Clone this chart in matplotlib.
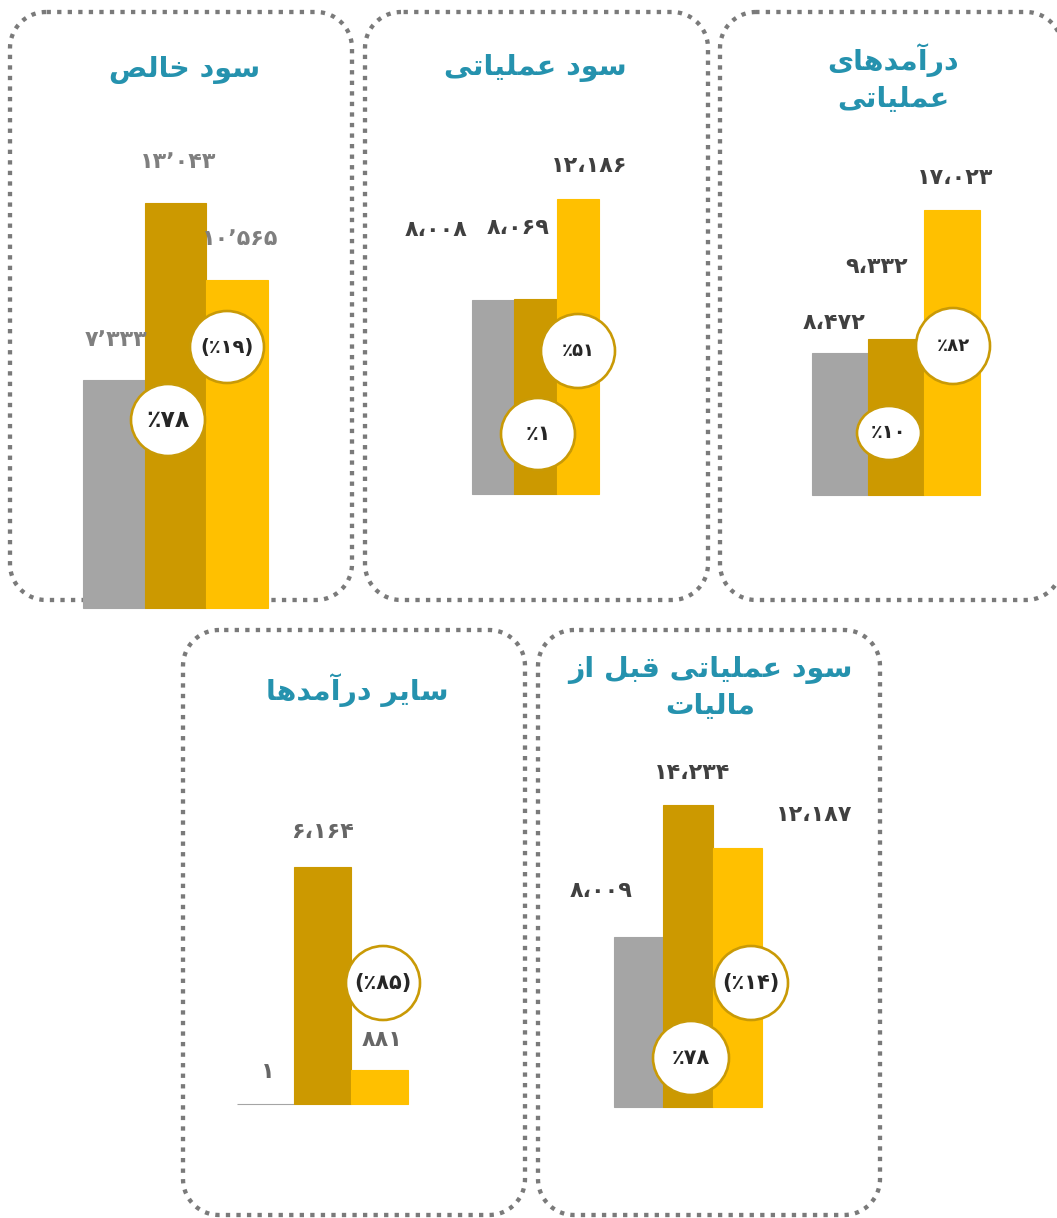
import numpy as np
import matplotlib
matplotlib.use("Agg")
import matplotlib.pyplot as plt
from matplotlib.patches import Ellipse
from matplotlib.lines import Line2D
from matplotlib.transforms import Affine2D

# ---------------- data ----------------
titles = ["سود خالص", "سود عملیاتی", "درآمدهای\nعملیاتی", "سایر درآمدها",
          "سود عملیاتی قبل از\nمالیات"]
net_profit = [7333, 13043, 10565]
operating_profit = [8008, 8069, 12186]
operating_revenue = [8472, 9332, 17023]
other_income = [1, 6164, 881]
pretax_profit = [8009, 14234, 12187]
series_values = [net_profit, operating_profit, operating_revenue, other_income, pretax_profit]

net_profit_change = [78, -19]
operating_profit_change = [1, 51]
operating_revenue_change = [10, 82]
other_income_change = [-85]
pretax_profit_change = [78, -14]
changes = [net_profit_change, operating_profit_change, operating_revenue_change,
           other_income_change, pretax_profit_change]
thousand_seps = ["\u066C", "\u060C", "\u060C", "\u060C", "\u060C"]

bar_colors = ["#A5A5A5", "#CC9900", "#FFC000"]

# ---------------- layout (pixels, top-left origin) ----------------
W, H = 1057, 1218
boxes = [(10, 12, 352, 600), (365, 12, 708, 600), (720, 12, 1062, 600),
         (183, 630, 525, 1215), (538, 630, 880, 1215)]
bar_areas = [(83, 268, 608, 203), (472, 599, 494, 199), (812, 980, 495, 210),
             (237, 408, 1104, 867), (614, 762, 1107, 805)]
title_pos = [(185, 70), (535, 68), (893, 78), (357, 690), (710, 688)]
label_offsets = [[(2, 40), (3, 41), (3, 41)],
                 [(-57, 70), (-17, 71), (11, 33)],
                 [(-6, 30), (-19, 72), (3, 32)],
                 [(2, 32), (0, 35), (3, 30)],
                 [(-38, 46), (4, 32), (77, 33)]]
label_colors = ["#7F7F7F", "#404040", "#404040", "#666666", "#404040"]
badges = [[(168, 420, 37, 36, 17), (227, 347, 37, 36, 14)],
          [(538, 434, 37, 36, 15), (578, 351, 37, 37, 13)],
          [(889, 433, 32, 27, 14), (953, 346, 37, 38, 13)],
          [(383, 983, 37, 37, 15)],
          [(691, 1058, 38, 37, 15), (751, 983, 37, 37, 15)]]

TITLE_COLOR = "#2592AE"
BADGE_EDGE = "#C99A06"
BOX_COLOR = "#7A7A7A"
CORNER_R = 36

# ---------------- Arabic shaping helper ----------------
FORMS = {
    'ا': ('\uFE8D', '\uFE8E', None, None),
    'آ': ('\uFE81', '\uFE82', None, None),
    'ب': ('\uFE8F', '\uFE90', '\uFE91', '\uFE92'),
    'ت': ('\uFE95', '\uFE96', '\uFE97', '\uFE98'),
    'خ': ('\uFEA5', '\uFEA6', '\uFEA7', '\uFEA8'),
    'د': ('\uFEA9', '\uFEAA', None, None),
    'ر': ('\uFEAD', '\uFEAE', None, None),
    'ز': ('\uFEAF', '\uFEB0', None, None),
    'س': ('\uFEB1', '\uFEB2', '\uFEB3', '\uFEB4'),
    'ص': ('\uFEB9', '\uFEBA', '\uFEBB', '\uFEBC'),
    'ع': ('\uFEC9', '\uFECA', '\uFECB', '\uFECC'),
    'ق': ('\uFED5', '\uFED6', '\uFED7', '\uFED8'),
    'ل': ('\uFEDD', '\uFEDE', '\uFEDF', '\uFEE0'),
    'م': ('\uFEE1', '\uFEE2', '\uFEE3', '\uFEE4'),
    'ه': ('\uFEE9', '\uFEEA', '\uFEEB', '\uFEEC'),
    'و': ('\uFEED', '\uFEEE', None, None),
    'ی': ('\uFEEF', '\uFEF0', '\uFEF3', '\uFEF4'),
}


def shape_line(s):
    out = []
    n = len(s)
    for i, c in enumerate(s):
        f = FORMS.get(c)
        if f is None:
            out.append(c)
            continue
        prev = s[i - 1] if i > 0 else None
        nxt = s[i + 1] if i < n - 1 else None
        join_prev = prev in FORMS and FORMS[prev][2] is not None
        join_next = nxt in FORMS and f[2] is not None
        if join_prev and join_next:
            out.append(f[3])
        elif join_prev:
            out.append(f[1])
        elif join_next:
            out.append(f[2])
        else:
            out.append(f[0])
    return "".join(reversed(out))


def shape(s):
    return "\n".join(shape_line(l) for l in s.split("\n"))


FA_DIGITS = str.maketrans("0123456789", "۰۱۲۳۴۵۶۷۸۹")


def fa_num(n, sep="\u060C"):
    return f"{n:,}".replace(",", sep).translate(FA_DIGITS)


def fa_pct(v):
    s = "٪" + str(abs(v)).translate(FA_DIGITS)
    return f"({s})" if v < 0 else s


def fy(y):
    return H - y


def rounded_outline(x0, y0, x1, y1, r, n=24):
    """Outline of a rounded rectangle (pixel coords, bottom-left origin)."""
    xb0, xb1 = x0, x1
    yb0, yb1 = fy(y1), fy(y0)
    pts = []
    corners = [((xb0 + r, yb1 - r), 90, 180), ((xb0 + r, yb0 + r), 180, 270),
               ((xb1 - r, yb0 + r), 270, 360), ((xb1 - r, yb1 - r), 0, 90)]
    for (cx, cy), a0, a1 in corners:
        t = np.radians(np.linspace(a0, a1, n))
        pts.extend(zip(cx + r * np.cos(t), cy + r * np.sin(t)))
    pts.append(pts[0])
    xs = np.array([p[0] for p in pts])
    ys = np.array([p[1] for p in pts])
    # break the outline where it leaves the canvas
    off = xs > W + 3
    xs = np.where(off, np.nan, xs)
    ys = np.where(off, np.nan, ys)
    return xs, ys


# ---------------- figure ----------------
plt.rcParams['font.family'] = ['DejaVu Sans']
fig = plt.figure(figsize=(W / 100, H / 100), dpi=100)
fig.patch.set_facecolor("white")
T = Affine2D().scale(1 / 100.0) + fig.dpi_scale_trans  # pixel coords, bottom-left origin

for p in range(5):
    x0, y0, x1, y1 = boxes[p]
    bx, by = rounded_outline(x0, y0, x1, y1, CORNER_R)
    line = Line2D(bx, by, transform=T, color=BOX_COLOR, linewidth=3.1,
                  linestyle=(0, (1, 1.45)), dash_capstyle="butt", zorder=-5)
    fig.add_artist(line)

    tx, ty = title_pos[p]
    fig.text(tx, fy(ty), shape(titles[p]), transform=T, ha="center", va="center",
             color=TITLE_COLOR, fontsize=20.5, fontweight="bold", linespacing=1.35,
             zorder=2)

    left, right, base, top = bar_areas[p]
    ax = fig.add_axes([left / W, fy(base) / H, (right - left) / W, (base - top) / H])
    ax.patch.set_alpha(0)
    vals = series_values[p]
    xs = list(range(len(vals)))
    ax.bar(xs, vals, width=1.0, color=bar_colors, edgecolor=bar_colors,
           linewidth=0.8, clip_on=False)
    ax.set_xlim(-0.5, len(vals) - 0.5)
    ax.set_ylim(0, max(vals))
    ax.axis("off")
    for i, v in enumerate(vals):
        dx, dy = label_offsets[p][i]
        ax.annotate(fa_num(v, thousand_seps[p]), xy=(i, v), xytext=(dx, dy),
                    textcoords="offset pixels", ha="center", va="center",
                    color=label_colors[p], fontsize=16, fontweight="bold",
                    annotation_clip=False)

    for (cx, cy, rx, ry, fs), ch in zip(badges[p], changes[p]):
        e = Ellipse((cx, fy(cy)), 2 * rx, 2 * ry, transform=T, facecolor="white",
                    edgecolor=BADGE_EDGE, linewidth=1.9, zorder=10)
        fig.add_artist(e)
        fig.text(cx, fy(cy), fa_pct(ch), transform=T, ha="center", va="center",
                 color="#262626", fontsize=fs, fontweight="bold", zorder=11)

fig.savefig("out.png", dpi=100, facecolor="white")
